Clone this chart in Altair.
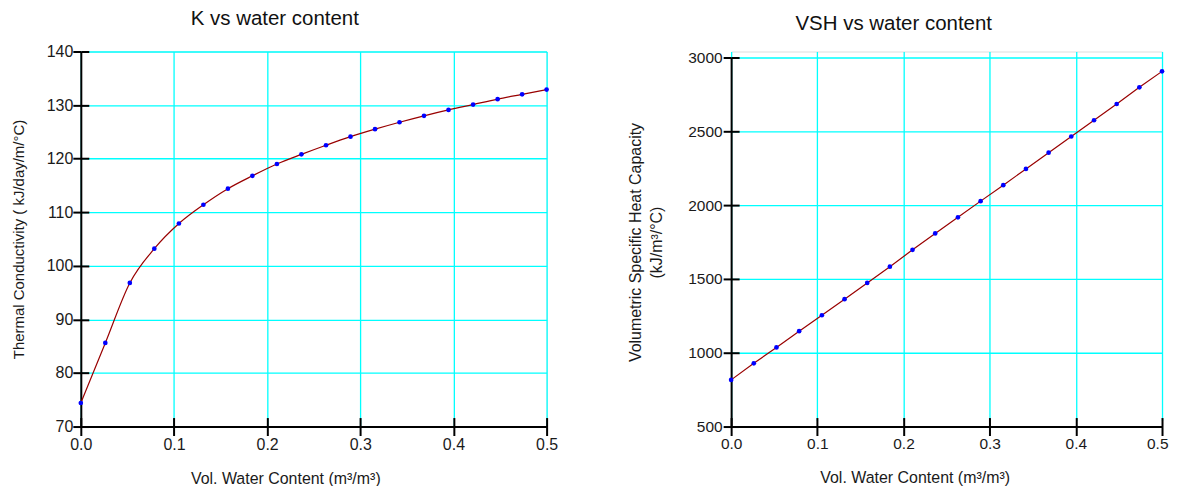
import altair as alt
import pandas as pd

# ---- data ----
water = [0.0, 0.0263, 0.0526, 0.0789, 0.1053, 0.1316, 0.1579, 0.1842, 0.2105, 0.2368,
         0.2632, 0.2895, 0.3158, 0.3421, 0.3684, 0.3947, 0.4211, 0.4474, 0.4737, 0.5]
k_vals = [74.4, 85.6, 96.8, 103.2, 107.9, 111.4, 114.4, 116.8, 119.0, 120.8,
          122.5, 124.1, 125.5, 126.8, 128.0, 129.1, 130.1, 131.1, 132.0, 132.9]
vsh_vals = [816, 928, 1036, 1146, 1254, 1363, 1473, 1583, 1697, 1808,
            1917, 2027, 2135, 2245, 2355, 2465, 2575, 2685, 2798, 2906]

x_ticks = [0.0, 0.1, 0.2, 0.3, 0.4, 0.5]
k_ticks = [70, 80, 90, 100, 110, 120, 130, 140]
vsh_ticks = [500, 1000, 1500, 2000, 2500, 3000]

FONT = "Liberation Sans"
GRID = "#00FFFF"
LINE = "#990000"
DOT = "#0000FF"
TXT = "#1a1a1a"


def panel(df, ycol, ydom, yticks, title, ytitle, w, h, yrange,
          label_size, ytitle_size, title_offset, title_dx,
          ylabel_pad, ytitle_pad, xtitle_x, interp, last_right):
    xscale = alt.Scale(domain=[0, 0.5], nice=False, zero=False)
    if yrange is None:
        yscale = alt.Scale(domain=ydom, nice=False, zero=False)
    else:
        yscale = alt.Scale(domain=ydom, nice=False, zero=False, range=yrange)
    extra = {}
    if last_right:
        extra = dict(
            labelAlign=alt.ExprRef(expr="datum.value >= 0.5 ? 'right' : 'center'"),
            labelOffset=alt.ExprRef(expr="datum.value >= 0.5 ? 6 : 0"))
    x_main = alt.X("w:Q", scale=xscale, axis=alt.Axis(
        values=x_ticks, format=".1f", grid=True, gridColor=GRID, gridWidth=1.3,
        gridOpacity=1, domainColor="black", domainWidth=2, tickColor="black",
        tickWidth=2, tickSize=9, labelPadding=1, labelFlush=False, labelFont=FONT,
        labelFontSize=label_size, labelColor=TXT, title="Vol. Water Content (m³/m³)",
        titleFont=FONT, titleFontSize=16, titleFontWeight="normal",
        titleColor=TXT, titlePadding=18, titleX=xtitle_x, **extra))
    y_main = alt.Y(ycol + ":Q", scale=yscale, axis=alt.Axis(
        values=yticks, format="d", grid=True, gridColor=GRID, gridWidth=1.3,
        gridOpacity=1, domainColor="black", domainWidth=2, tickColor="black",
        tickWidth=2, tickSize=8, labelPadding=ylabel_pad, labelFlush=False,
        labelFont=FONT, labelFontSize=label_size, labelColor=TXT, title=ytitle,
        titleFont=FONT, titleFontSize=ytitle_size, titleFontWeight="normal",
        titleColor=TXT, titlePadding=ytitle_pad, titleLineHeight=21))
    x_in = alt.X("w:Q", scale=xscale, axis=alt.Axis(
        orient="bottom", values=x_ticks, offset=-9, tickSize=9, tickWidth=2,
        tickColor="black", labels=False, domain=False, grid=False, title=None))
    y_in = alt.Y(ycol + ":Q", scale=yscale, axis=alt.Axis(
        orient="left", values=yticks, offset=-8, tickSize=8, tickWidth=2,
        tickColor="black", labels=False, domain=False, grid=False, title=None))
    base = alt.Chart(df)
    line = base.mark_line(color=LINE, strokeWidth=1.2, interpolate=interp).encode(
        x=x_main, y=y_main)
    pts = base.mark_circle(color=DOT, size=22, opacity=1).encode(x=x_in, y=y_in)
    return alt.layer(line, pts).resolve_axis(x="independent", y="independent").properties(
        width=w, height=h,
        title=alt.TitleParams(title, font=FONT, fontSize=20.5, fontWeight="normal",
                              color="#111", offset=title_offset, dx=title_dx))


df = pd.DataFrame({"w": water, "k": k_vals, "v": vsh_vals})

left = panel(df, "k", [70, 140], k_ticks, "K vs water content",
             "Thermal Conductivity ( kJ/day/m/°C)",
             467, 376, None, 16, 15, 14, -39, 0, 20, 205, "monotone", False)
right = panel(df, "v", [500, 3000], vsh_ticks, "VSH vs water content",
              ["Volumetric Specific Heat Capacity", "(kJ/m³/°C)"],
              432, 376, [376, 6], 15.5, 16, 16, -53, 1, 23, 184, "linear", True)

chart = alt.hconcat(left, right, spacing=69).properties(
    padding={"left": 2, "top": 0, "right": 0, "bottom": 0}
).configure_view(strokeWidth=0).configure(background="white")

chart.save("out.html", embed_options={"renderer": "svg", "actions": False})
